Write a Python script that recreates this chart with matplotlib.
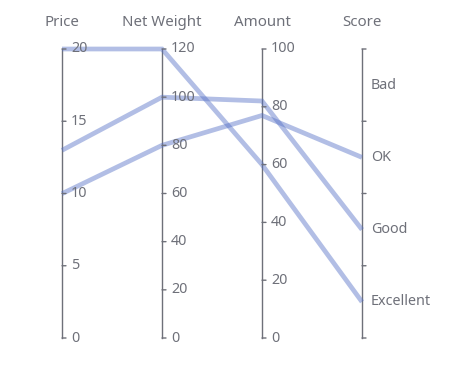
import matplotlib
matplotlib.use("Agg")
import matplotlib.pyplot as plt
import matplotlib.transforms as mtransforms

plt.rcParams['font.family'] = ['Noto Sans', 'DejaVu Sans']

dims = ['Price', 'Net Weight', 'Amount', 'Score']
price = [12.99, 9.99, 20]
net_weight = [100, 80, 120]
amount = [82, 77, 60]
score = ['Good', 'OK', 'Excellent']
score_cats = ['Excellent', 'Good', 'OK', 'Bad']

ranges = [(0, 20), (0, 120), (0, 100)]
ticks = [[0, 5, 10, 15, 20], [0, 20, 40, 60, 80, 100, 120], [0, 20, 40, 60, 80, 100]]

W, H = 472, 370
fig = plt.figure(figsize=(W / 100, H / 100), dpi=100)
left, right, top, bottom = 62, 362, 49, 338
ax = fig.add_axes([left / W, (H - bottom) / H, (right - left) / W, (bottom - top) / H])
ax.set_xlim(0, 3)
ax.set_ylim(0, 1)
ax.axis('off')

gray = '#6E7079'

def norm(v, r):
    return (v - r[0]) / (r[1] - r[0])

# data lines
for i in range(len(price)):
    ys = [norm(price[i], ranges[0]), norm(net_weight[i], ranges[1]), norm(amount[i], ranges[2]),
          (score_cats.index(score[i]) + 0.5) / len(score_cats)]
    ax.plot(range(4), ys, color='#5470c6', alpha=0.45, lw=3.4, solid_capstyle='butt',
            solid_joinstyle='miter', clip_on=False, zorder=3)

for xi in range(4):
    ax.plot([xi, xi], [0, 1], color=gray, lw=1, clip_on=False, zorder=2)
    ax.text(xi, 1, dims[xi], transform=mtransforms.offset_copy(ax.transData, fig=fig, x=0, y=26, units='dots'),
            ha='center', va='center', fontsize=10.8, color=gray)

for xi in range(3):
    for t in ticks[xi]:
        y = norm(t, ranges[xi])
        ax.annotate('', xy=(xi, y), xytext=(4, 0), textcoords='offset pixels',
                    arrowprops=dict(arrowstyle='-', color=gray, lw=1, shrinkA=0, shrinkB=0))
        ax.annotate(str(t), xy=(xi, y), xytext=(9, 0), textcoords='offset pixels',
                    ha='left', va='center', fontsize=10.3, color=gray)

for k in range(len(score_cats) + 1):
    y = k / len(score_cats)
    ax.annotate('', xy=(3, y), xytext=(4, 0), textcoords='offset pixels',
                arrowprops=dict(arrowstyle='-', color=gray, lw=1, shrinkA=0, shrinkB=0))
for k, c in enumerate(score_cats):
    y = (k + 0.5) / len(score_cats)
    ax.annotate(c, xy=(3, y), xytext=(9, 0), textcoords='offset pixels',
                ha='left', va='center', fontsize=10.3, color=gray)

fig.savefig('out.png', dpi=100)
